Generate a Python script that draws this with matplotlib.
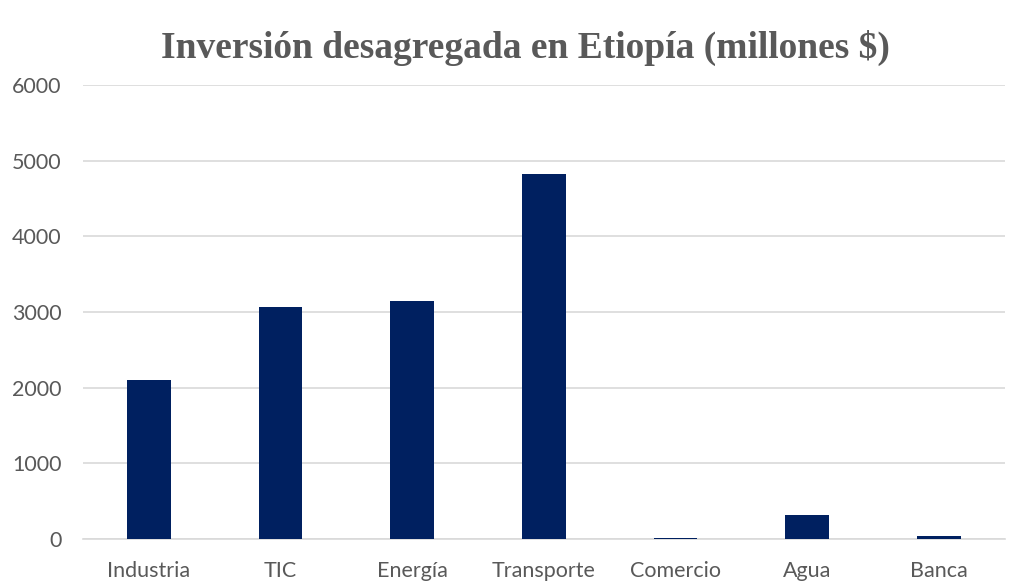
import matplotlib
matplotlib.use('Agg')
import matplotlib.pyplot as plt
import numpy as np

sectores = ['Industria', 'TIC', 'Energía', 'Transporte', 'Comercio', 'Agua', 'Banca']
inversion = [2100, 3060, 3145, 4825, 15, 320, 40]
yticks = [0, 1000, 2000, 3000, 4000, 5000, 6000]

fig = plt.figure(figsize=(10.21, 5.82), dpi=100)
ax = fig.add_axes([0.0813, 0.074, 0.9027, 0.780])

x = np.arange(len(sectores))
ax.bar(x, inversion, width=0.33, color='#002060', zorder=3)

ax.set_xlim(-0.5, len(sectores) - 0.5)
ax.set_ylim(0, 6000)
ax.set_yticks(yticks)
ax.set_xticks(x)
ax.set_xticklabels(sectores)
ax.yaxis.grid(True, color='#d9d9d9', linewidth=1.2, zorder=0)
for s in ['top', 'right', 'left']:
    ax.spines[s].set_visible(False)
ax.spines['bottom'].set_color('#d9d9d9')
ax.spines['bottom'].set_linewidth(1.2)
ax.tick_params(axis='both', length=0, labelsize=15.5, colors='#595959', labelfontfamily='Lato')
ax.tick_params(axis='y', pad=15.5)
ax.tick_params(axis='x', pad=16)

fig.text(0.515, 0.918, 'Inversión desagregada en Etiopía (millones $)',
         ha='center', va='center', fontsize=27, fontweight='bold',
         family='Liberation Serif', color='#595959')

fig.savefig('out.png', dpi=100)
